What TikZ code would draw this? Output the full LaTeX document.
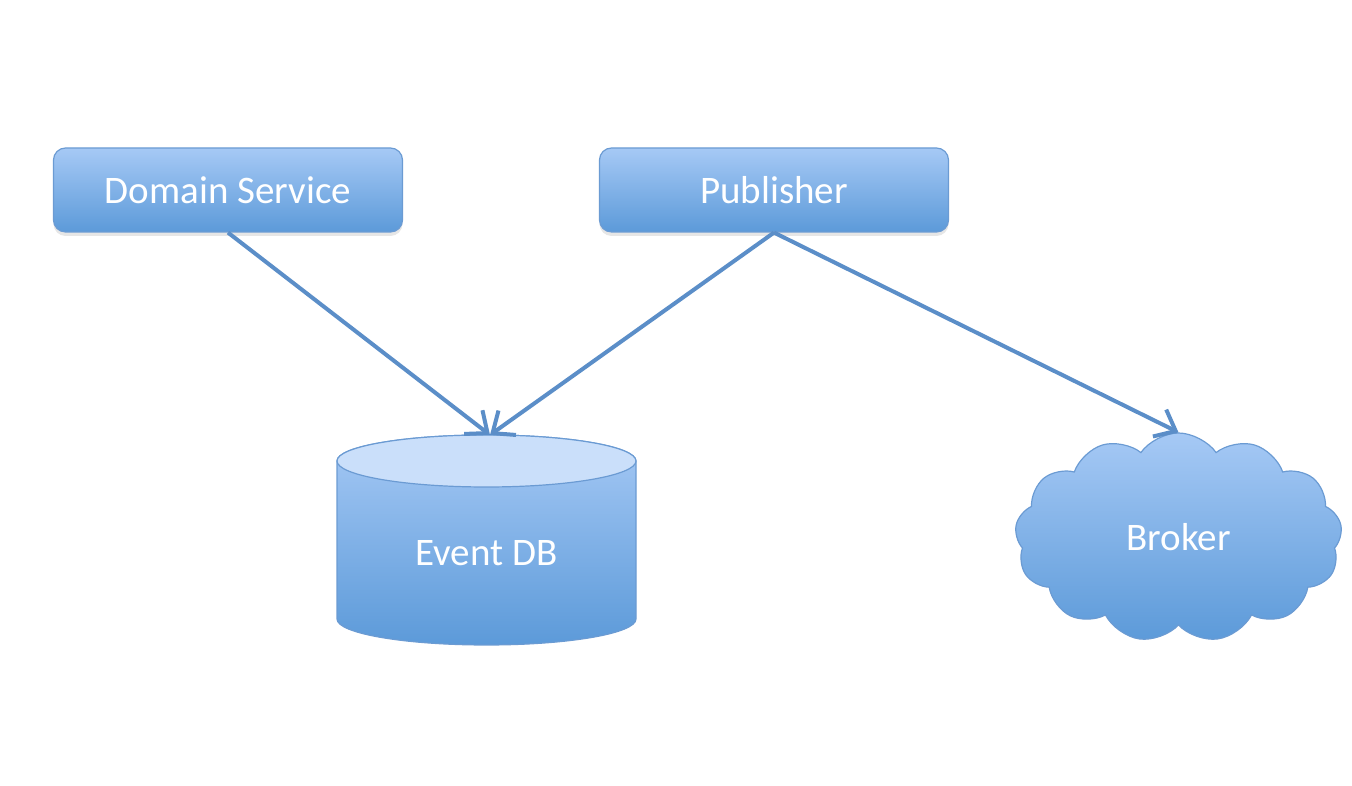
\documentclass[tikz,border=0pt]{standalone}
\usepackage{fontspec}
\setmainfont{Carlito}
\usetikzlibrary{shapes.symbols,arrows.meta,shadows}
\definecolor{boxtop}{HTML}{A6C9F5}
\definecolor{boxbot}{HTML}{5C9AD9}
\definecolor{boxline}{HTML}{6B9BD3}
\definecolor{dbtop}{HTML}{CADFFA}
\definecolor{arrowcol}{HTML}{5B8EC8}
\begin{document}
\begin{tikzpicture}[x=1pt, y=1pt,
    lbl/.style={text=white, font=\fontsize{39}{47}\selectfont},
    box/.style={lbl, rounded corners=12pt, minimum width=349pt, minimum height=84pt,
                draw=boxline, line width=1.2pt, top color=boxtop, bottom color=boxbot,
                drop shadow={opacity=0.2, shadow xshift=0pt, shadow yshift=-4pt}},
    cloudnode/.style={lbl, cloud, cloud puffs=13, cloud puff arc=110, aspect=1.6,
                minimum width=327pt, minimum height=209pt, draw=boxline, line width=1.2pt,
                top color=boxtop, bottom color=boxbot},
    link/.style={draw=arrowcol, line width=4pt,
                 -{Straight Barb[length=18pt,width=30pt,line width=4pt]}}
]
\useasboundingbox (0,0) rectangle (1352,786);

\node[box] (ds)  at (228,596) {Domain Service};
\node[box] (pub) at (774,596) {Publisher};

% cylinder for the event store
\shade[top color=boxtop, bottom color=boxbot, draw=boxline, line width=1.2pt]
  (337,325) -- (337,167) arc[start angle=180, end angle=360, x radius=149.5, y radius=26]
  -- (636,325) arc[start angle=0, end angle=180, x radius=149.5, y radius=26] -- cycle;
\filldraw[fill=dbtop, draw=boxline, line width=1.2pt] (486.5,325) ellipse [x radius=149.5, y radius=26];
\node[lbl] (db) at (486.5,233) {Event DB};
\coordinate (dbin) at (490,351);

\node[cloudnode] (broker) at (1178.5,248.5) {Broker};

\draw[link] (ds.south) -- (dbin);
\draw[link] (pub.south) -- (dbin);
\draw[link] (pub.south) -- (broker.north);

\end{tikzpicture}
\end{document}
